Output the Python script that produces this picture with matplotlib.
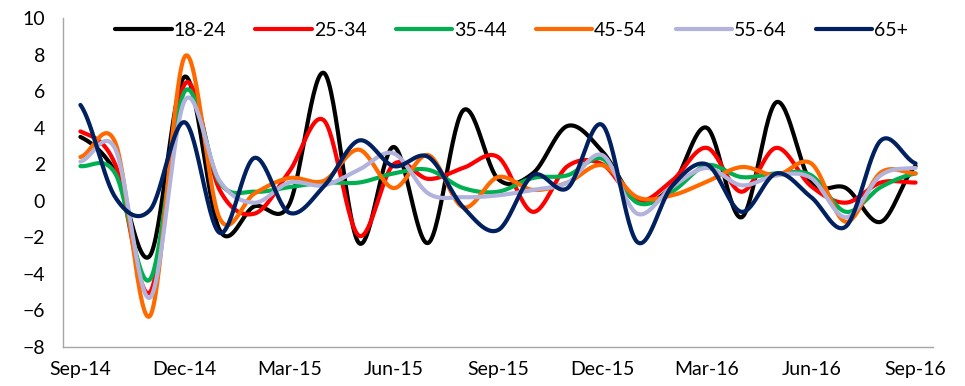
import numpy as np
import matplotlib
matplotlib.use("Agg")
from matplotlib import pyplot as plt

plt.rcParams['font.family'] = ['Lato', 'DejaVu Sans']

# monthly change by age group, Sep-14 .. Sep-16
months = ['Sep-14', 'Oct-14', 'Nov-14', 'Dec-14', 'Jan-15', 'Feb-15', 'Mar-15',
          'Apr-15', 'May-15', 'Jun-15', 'Jul-15', 'Aug-15', 'Sep-15', 'Oct-15',
          'Nov-15', 'Dec-15', 'Jan-16', 'Feb-16', 'Mar-16', 'Apr-16', 'May-16',
          'Jun-16', 'Jul-16', 'Aug-16', 'Sep-16']

age_18_24 = [3.5, 1.6, -3.0, 6.8, -1.6, -0.3, -0.2, 7.0, -2.3, 2.95, -2.3, 4.95,
             1.2, 1.5, 4.1, 2.7, 0.0, 0.8, 4.0, -0.9, 5.4, 1.0, 0.7, -1.15, 1.9]
age_25_34 = [3.8, 2.0, -5.0, 6.4, 0.6, -0.7, 1.6, 4.4, -1.9, 2.0, 1.2, 1.8,
             2.4, -0.6, 1.9, 2.0, 0.0, 1.1, 2.9, 0.5, 2.9, 0.8, -0.1, 1.0, 1.0]
age_35_44 = [1.9, 1.5, -4.3, 6.0, 1.0, 0.5, 0.75, 1.0, 1.0, 1.5, 1.7, 0.7,
             0.5, 1.25, 1.4, 2.3, -0.1, 0.5, 1.95, 1.3, 1.5, 1.4, -0.6, 0.75, 1.5]
age_45_54 = [2.4, 3.2, -6.3, 7.9, -0.95, 0.4, 1.25, 1.1, 2.8, 0.7, 2.5, -0.35,
             1.3, 0.6, 1.0, 1.95, 0.2, 0.3, 1.05, 1.85, 1.4, 2.05, -1.15, 1.55, 1.5]
age_55_64 = [2.15, 2.85, -5.3, 5.5, 1.1, -0.1, 1.0, 0.85, 1.7, 2.6, 0.4, 0.2,
             0.3, 0.6, 1.0, 2.5, -0.7, 0.75, 1.8, 0.85, 1.4, 1.25, -0.9, 1.4, 1.8]
age_65_plus = [5.25, 0.2, -0.5, 4.3, -1.75, 2.35, -0.65, 0.8, 3.3, 1.9, 2.4, -0.35,
               -1.6, 1.4, 0.7, 4.15, -2.25, 0.8, 2.0, -0.6, 1.5, 0.2, -1.4, 3.3, 2.05]

series = [('18-24', age_18_24, '#000000'),
          ('25-34', age_25_34, '#FF0000'),
          ('35-44', age_35_44, '#00B050'),
          ('45-54', age_45_54, '#FF6A00'),
          ('55-64', age_55_64, '#B1B3DC'),
          ('65+', age_65_plus, '#002060')]


def smooth(y, steps=30):
    # catmull-rom curve through every point (like a smoothed line in a spreadsheet)
    y = np.asarray(y, dtype=float)
    p = np.concatenate([[y[0]], y, [y[-1]]])
    xs, ys = [], []
    t = np.linspace(0, 1, steps, endpoint=False)
    for i in range(len(y) - 1):
        p0, p1, p2, p3 = p[i], p[i + 1], p[i + 2], p[i + 3]
        seg = 0.5 * ((2 * p1) + (-p0 + p2) * t + (2 * p0 - 5 * p1 + 4 * p2 - p3) * t ** 2
                     + (-p0 + 3 * p1 - 3 * p2 + p3) * t ** 3)
        xs.append(i + t)
        ys.append(seg)
    xs.append([len(y) - 1])
    ys.append([y[-1]])
    return np.concatenate(xs), np.concatenate(ys)


fig = plt.figure(figsize=(9.65, 3.86), dpi=100)
ax = fig.add_axes([0.0653, 0.101, 0.9015, 0.852])

for name, vals, col in series:
    sx, sy = smooth(vals)
    ax.plot(sx, sy, color=col, linewidth=3, label=name, solid_capstyle='round')

ax.set_xlim(-0.5, len(months) - 0.5)
ax.set_ylim(-8, 10)
ax.set_yticks(range(-8, 11, 2))
ax.set_xticks(range(0, len(months), 3))
ax.set_xticklabels(months[::3])

for s in ['top', 'right']:
    ax.spines[s].set_visible(False)
for s in ['left', 'bottom']:
    ax.spines[s].set_color('#A6A6A6')
    ax.spines[s].set_linewidth(1)

ax.tick_params(axis='y', length=0, pad=13, labelsize=14)
ax.tick_params(axis='x', length=0, pad=10, labelsize=14)

ax.legend(loc='center', bbox_to_anchor=(0.516, 0.963), ncol=6, frameon=False,
          fontsize=14, handlelength=2.9, handletextpad=0.1, columnspacing=1.5)

plt.savefig('out.png', dpi=100)
